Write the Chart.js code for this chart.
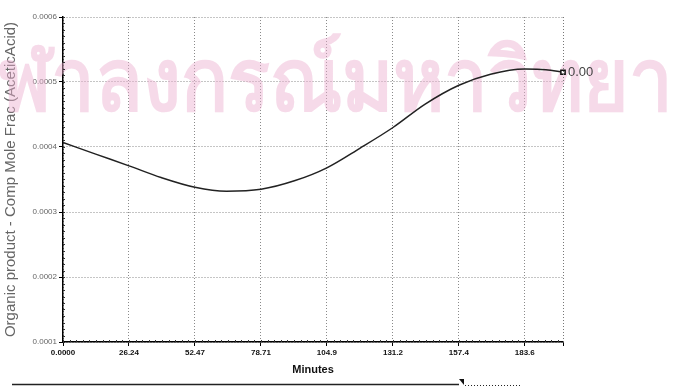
<!DOCTYPE html>
<html>
<head>
<meta charset="utf-8">
<script src="https://cdn.jsdelivr.net/npm/chart.js@4/dist/chart.umd.min.js"></script>
<style>
    html, body { margin: 0; padding: 0; background: #fff; }
    canvas { display: block; }
</style>
</head>
<body>
<canvas id="myChart" width="674" height="388"></canvas>
<script>
// simulation output: acetic acid mole fraction in the organic product
const minutes = [0, 13, 26.24, 39, 52.47, 65, 78.71, 92, 104.9, 118, 131.2, 144, 157.4, 170, 183.6, 192, 198.8];
const aceticFrac = [0.000407, 0.000389, 0.000371, 0.000353, 0.000338, 0.000332, 0.000335, 0.000348, 0.000368,
    0.000398, 0.00043, 0.000466, 0.000495, 0.000512, 0.00052, 0.000519, 0.000515];

const xTicks = [0, 26.24, 52.47, 78.71, 104.9, 131.2, 157.4, 183.6];
const xTickLabels = ['0.0000', '26.24', '52.47', '78.71', '104.9', '131.2', '157.4', '183.6'];
const xMax = 198.8;
const yTicks = [0.0001, 0.0002, 0.0003, 0.0004, 0.0005, 0.0006];
const yTickLabels = ['0.0001', '0.0002', '0.0003', '0.0004', '0.0005', '0.0006'];
const endLabel = '0.00';

// pale stamp across the plot
const stampPlugin = {
    id: 'stamp',
    beforeDatasetsDraw(chart) {
        const ctx = chart.ctx;
        ctx.save();
        ctx.font = 'bold 78px "Noto Sans", "DejaVu Sans", sans-serif';
        ctx.fillStyle = 'rgba(236, 172, 206, 0.45)';
        ctx.textBaseline = 'alphabetic';
        const lead = ctx.measureText('จุ').width;
        ctx.translate(-lead - 2, 110);
        ctx.scale(1, 1.1);
        ctx.fillText('จุฬาลงกรณ์มหาวิทยาลัย', 0, 0);
        ctx.restore();
    }
};

// small ticks along the axes, end marker label and the strip at the bottom
const extrasPlugin = {
    id: 'extras',
    afterDraw(chart) {
        const ctx = chart.ctx;
        const x = chart.scales.x, y = chart.scales.y;
        const area = chart.chartArea;
        ctx.save();
        ctx.strokeStyle = '#333';
        ctx.lineWidth = 1;
        ctx.beginPath();
        for (let v = 0.0001; v <= 0.0006 + 1e-9; v += 0.00001) {
            const py = Math.round(y.getPixelForValue(v)) + 0.5;
            ctx.moveTo(area.left, py);
            ctx.lineTo(area.left + 2, py);
        }
        for (let v = 0; v <= xMax; v += 26.24 / 10) {
            const px = Math.round(x.getPixelForValue(v)) + 0.5;
            ctx.moveTo(px, area.bottom);
            ctx.lineTo(px, area.bottom - 2);
        }
        ctx.stroke();

        // right border of the plot
        ctx.setLineDash([1, 2]);
        ctx.strokeStyle = '#777';
        ctx.beginPath();
        ctx.moveTo(area.right + 0.5, area.top);
        ctx.lineTo(area.right + 0.5, area.bottom);
        ctx.stroke();
        ctx.setLineDash([]);

        // value label at the last point
        const meta = chart.getDatasetMeta(0);
        const last = meta.data[meta.data.length - 1];
        ctx.fillStyle = '#444';
        ctx.font = '13px "Liberation Sans", Arial, sans-serif';
        ctx.textBaseline = 'middle';
        ctx.fillText(endLabel, last.x + 5, last.y);

        // bottom strip
        ctx.strokeStyle = '#222';
        ctx.lineWidth = 1.5;
        ctx.beginPath();
        ctx.moveTo(12, 384.5);
        ctx.lineTo(459, 384.5);
        ctx.stroke();
        ctx.fillStyle = '#111';
        ctx.beginPath();
        ctx.moveTo(459, 379);
        ctx.lineTo(464, 379);
        ctx.lineTo(464, 385);
        ctx.closePath();
        ctx.fill();
        ctx.lineWidth = 1;
        ctx.setLineDash([1, 2]);
        ctx.beginPath();
        ctx.moveTo(465, 385.5);
        ctx.lineTo(522, 385.5);
        ctx.stroke();
        ctx.restore();
    }
};

const ctx = document.getElementById('myChart').getContext('2d');
const myChart = new Chart(ctx, {
    type: 'line',
    data: {
        datasets: [{
            label: 'Organic product - Comp Mole Frac (AceticAcid)',
            data: minutes.map((m, i) => ({ x: m, y: aceticFrac[i] })),
            borderColor: '#222',
            borderWidth: 1.5,
            cubicInterpolationMode: 'monotone',
            clip: false,
            pointStyle: 'rect',
            pointRadius: minutes.map((m, i) => i === minutes.length - 1 ? 3 : 0),
            pointBackgroundColor: '#fff',
            pointBorderColor: '#111',
            pointBorderWidth: 1.5
        }]
    },
    options: {
        responsive: false,
        animation: false,
        devicePixelRatio: 1,
        layout: { padding: { top: 17, right: 111, bottom: 0, left: 0 } },
        plugins: {
            legend: { display: false },
            tooltip: { enabled: false }
        },
        scales: {
            x: {
                type: 'linear',
                min: 0,
                max: xMax,
                afterBuildTicks: s => { s.ticks = xTicks.concat([xMax]).map(v => ({ value: v })); },
                afterFit: s => { s.height = 46; },
                grid: {
                    color: '#8a8a8a',
                    tickColor: '#000',
                    tickLength: 4,
                    tickBorderDash: []
                },
                border: { color: '#000', width: 1.5, dash: [1, 2] },
                ticks: {
                    autoSkip: false,
                    maxRotation: 0,
                    padding: 2,
                    color: '#111',
                    font: { family: '"Liberation Sans", Arial, sans-serif', size: 8, weight: 'bold' },
                    callback: (v, i) => i < xTickLabels.length ? xTickLabels[i] : ''
                },
                title: {
                    display: true,
                    text: 'Minutes',
                    color: '#111',
                    padding: { top: 0, bottom: 11 },
                    font: { family: '"Liberation Sans", Arial, sans-serif', size: 11, weight: 'bold' }
                }
            },
            y: {
                min: 0.0001,
                max: 0.0006,
                afterBuildTicks: s => { s.ticks = yTicks.map(v => ({ value: v })); },
                afterFit: s => { s.width = 63; },
                grid: {
                    color: '#8a8a8a',
                    tickColor: '#000',
                    tickLength: 4,
                    tickBorderDash: []
                },
                border: { color: '#000', width: 1.5, dash: [1, 2] },
                ticks: {
                    padding: 2,
                    color: '#666',
                    font: { family: '"Liberation Sans", Arial, sans-serif', size: 8 },
                    callback: (v, i) => yTickLabels[i]
                },
                title: {
                    display: true,
                    text: 'Organic product - Comp Mole Frac (AceticAcid)',
                    color: '#666',
                    padding: { top: 2, bottom: 0 },
                    font: { family: '"Liberation Sans", Arial, sans-serif', size: 15 }
                }
            }
        }
    },
    plugins: [stampPlugin, extrasPlugin]
});
</script>
</body>
</html>
